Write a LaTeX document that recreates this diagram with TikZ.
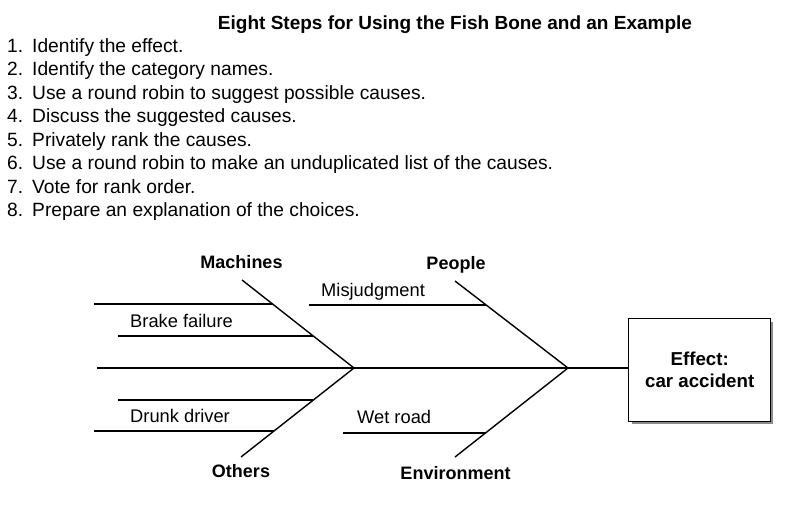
\documentclass[tikz,border=0pt]{standalone}
\usepackage{fontspec}
\setmainfont{Liberation Sans}
\usetikzlibrary{calc}
\begin{document}
\begin{tikzpicture}[x=1pt,y=-1pt,
  bone/.style={line width=1.4pt},
  listtxt/.style={anchor=base west, inner sep=0pt, font=\fontsize{19.2}{23}\selectfont},
  numtxt/.style={anchor=base west, inner sep=0pt, font=\fontsize{19.2}{23}\selectfont},
  titletxt/.style={anchor=base, inner sep=0pt, font=\fontsize{19}{23}\selectfont\bfseries},
  cattxt/.style={anchor=base, inner sep=0pt, font=\fontsize{18}{22}\selectfont\bfseries},
  causetxt/.style={anchor=base west, inner sep=0pt, font=\fontsize{18.3}{22}\selectfont},
  effectbox/.style={draw, line width=1.4pt, fill=white, minimum width=142pt, minimum height=103pt, inner sep=0pt, align=center, font=\fontsize{18.7}{22}\selectfont\bfseries}
]
\useasboundingbox (0,0) rectangle (800,506);
\fill[white] (0,0) rectangle (800,506);

% title and list
\node[titletxt] (title) at (455,29) {Eight Steps for Using the Fish Bone and an Example};
\node[numtxt] (n1) at (7,52) {1.};
\node[listtxt] (s1) at (32,52) {Identify the effect.};
\node[numtxt] (n2) at (7,75.5) {2.};
\node[listtxt] (s2) at (32,75.5) {Identify the category names.};
\node[numtxt] (n3) at (7,99) {3.};
\node[listtxt] (s3) at (32,99) {Use a round robin to suggest possible causes.};
\node[numtxt] (n4) at (7,122.5) {4.};
\node[listtxt] (s4) at (32,122.5) {Discuss the suggested causes.};
\node[numtxt] (n5) at (7,146) {5.};
\node[listtxt] (s5) at (32,146) {Privately rank the causes.};
\node[numtxt] (n6) at (7,169.5) {6.};
\node[listtxt] (s6) at (32,169.5) {Use a round robin to make an unduplicated list of the causes.};
\node[numtxt] (n7) at (7,193) {7.};
\node[listtxt] (s7) at (32,193) {Vote for rank order.};
\node[numtxt] (n8) at (7,216.5) {8.};
\node[listtxt] (s8) at (32,216.5) {Prepare an explanation of the choices.};

% effect box with shadow
\fill[black!45] (631.5,321.5) rectangle (773,424);
\node[effectbox, anchor=north west] (effect) at (628,318) {Effect:\\car accident};

% spine
\coordinate (tail) at (97,368);
\coordinate (j1) at (354,368);
\coordinate (j2) at (568,368);
\draw[bone] (tail) -- (j1) -- (j2) -- (j2 -| effect.west);

% bones
\coordinate (machTop) at (242,280);
\coordinate (othBot) at (241,457);
\coordinate (pplTop) at (455,281);
\coordinate (envBot) at (455,457);
\draw[bone] (machTop) -- (j1);
\draw[bone] (othBot) -- (j1);
\draw[bone] (pplTop) -- (j2);
\draw[bone] (envBot) -- (j2);

% ribs
\coordinate (r1e) at ($(machTop)!0.273!(j1)$);
\coordinate (r1s) at (94,304);
\coordinate (r2e) at ($(machTop)!0.636!(j1)$);
\coordinate (r2s) at (118,336);
\coordinate (r3e) at ($(othBot)!0.64!(j1)$);
\coordinate (r3s) at (118,400);
\coordinate (r4e) at ($(othBot)!0.292!(j1)$);
\coordinate (r4s) at (94,431);
\coordinate (r5e) at ($(pplTop)!0.276!(j2)$);
\coordinate (r5s) at (309,305);
\coordinate (r6e) at ($(envBot)!0.27!(j2)$);
\coordinate (r6s) at (343,433);
\draw[bone] (r1s) -- (r1s -| r1e);
\draw[bone] (r2s) -- (r2s -| r2e);
\draw[bone] (r3s) -- (r3s -| r3e);
\draw[bone] (r4s) -- (r4s -| r4e);
\draw[bone] (r5s) -- (r5s -| r5e);
\draw[bone] (r6s) -- (r6s -| r6e);

% category labels
\node[cattxt] (machines) at (241.5,268) {Machines};
\node[cattxt] (others) at (241,477) {Others};
\node[cattxt] (people) at (456,269) {People};
\node[cattxt] (environment) at (455.5,479) {Environment};

% cause labels
\node[causetxt] (brake) at (130,327) {Brake failure};
\node[causetxt] (drunk) at (130,422) {Drunk driver};
\node[causetxt] (misj) at (321,296) {Misjudgment};
\node[causetxt] (wet) at (357,423) {Wet road};
\end{tikzpicture}
\end{document}
